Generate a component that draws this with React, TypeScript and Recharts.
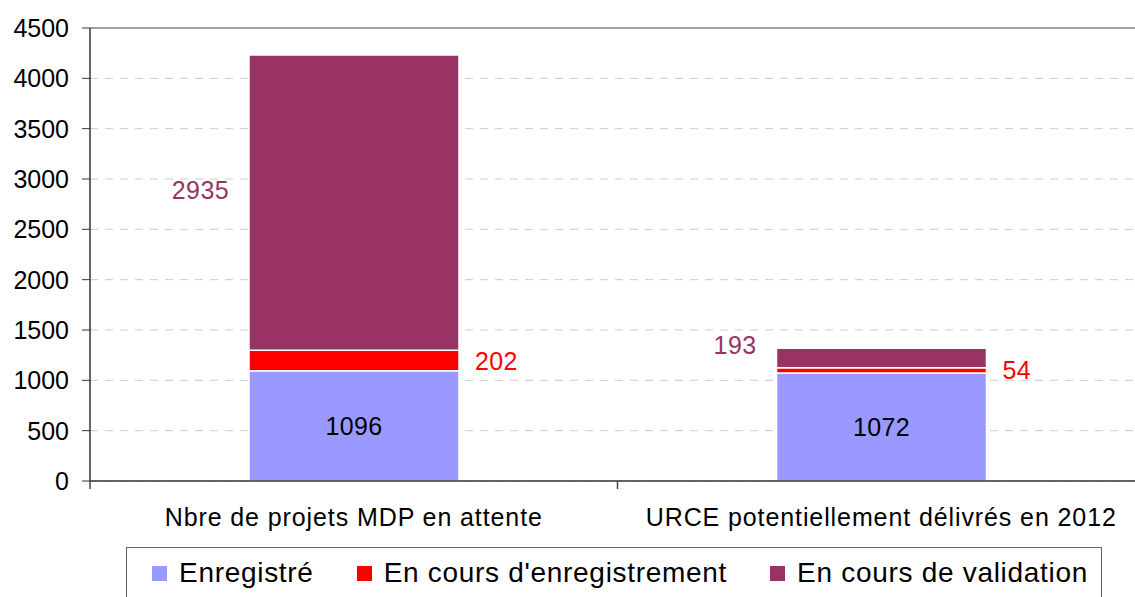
import { BarChart, Bar, XAxis, YAxis, CartesianGrid, LabelList, ReferenceLine } from "recharts";

const categories = ["Nbre de projets MDP en attente", "URCE potentiellement délivrés en 2012"];
const enregistre = [1096, 1072];
const enCoursEnreg = [202, 54];
const enCoursValid = [2935, 193];
const yTicks = [0, 500, 1000, 1500, 2000, 2500, 3000, 3500, 4000, 4500];

const seriesNames = ["Enregistré", "En cours d'enregistrement", "En cours de validation"];
const colors = ["#9999FF", "#FF0000", "#993366"];

const data = categories.map((name, i) => ({
  name,
  a: enregistre[i],
  b: enCoursEnreg[i],
  c: enCoursValid[i],
}));

const FONT = "'Liberation Sans', Arial, Helvetica, sans-serif";

const CategoryTick = (props: any) => {
  const { x, y, payload, index, visibleTicksCount } = props;
  const off = payload.offset ?? 265;
  const isLast = index === (visibleTicksCount ?? 2) - 1;
  return (
    <g>
      <line x1={x - off} x2={x - off} y1={y} y2={y + 8} stroke="#444" strokeWidth={1.5} />
      {isLast && <line x1={x + off} x2={x + off} y1={y} y2={y + 8} stroke="#444" strokeWidth={1.5} />}
      <text x={x} y={y + 45} textAnchor="middle" fill="#000" fontSize={25} letterSpacing={0.9} fontFamily={FONT}>
        {payload.value}
      </text>
    </g>
  );
};

const insideLabel = (props: any) => {
  const { x, y, width, height, value } = props;
  return (
    <text x={x + width / 2} y={y + height / 2} textAnchor="middle" dominantBaseline="central" fill="#000" fontSize={25} letterSpacing={0.4} fontFamily={FONT}>
      {value}
    </text>
  );
};

const rightLabel = (props: any) => {
  const { x, y, width, height, value } = props;
  return (
    <text x={x + width + 16} y={y + height / 2} textAnchor="start" dominantBaseline="central" fill={colors[1]} fontSize={25} letterSpacing={0.4} fontFamily={FONT}>
      {value}
    </text>
  );
};

const leftLabel = (props: any) => {
  const { x, y, height, value } = props;
  return (
    <text x={x - 20} y={y + height / 2 - 13} textAnchor="end" dominantBaseline="central" fill={colors[2]} fontSize={25} letterSpacing={0.4} fontFamily={FONT}>
      {value}
    </text>
  );
};

export default function App() {
  return (
    <div style={{ position: "absolute", left: 0, top: 0, width: 1135, height: 597, overflow: "hidden", background: "#fff" }}>
      <BarChart
        width={1160}
        height={597}
        data={data}
        barSize={210}
        margin={{ top: 28, right: 15, left: 0, bottom: 0 }}
      >
        <CartesianGrid vertical={false} stroke="#cccccc" strokeDasharray="8 7" />
        <ReferenceLine y={4500} stroke="#888" strokeWidth={1.5} />
        <XAxis
          dataKey="name"
          height={116}
          tickLine={false}
          tickSize={0}
          tickMargin={0}
          axisLine={{ stroke: "#333", strokeWidth: 1.5 }}
          tick={<CategoryTick />}
          interval={0}
        />
        <YAxis
          width={90}
          domain={[0, 4500]}
          ticks={yTicks}
          interval={0}
          tickSize={8}
          tickMargin={13}
          tickLine={{ stroke: "#333" }}
          axisLine={{ stroke: "#333", strokeWidth: 1.5 }}
          tick={{ fill: "#000", fontSize: 25, fontFamily: FONT }}
        />
        <Bar dataKey="a" stackId="s" fill={colors[0]} stroke="#fff" strokeWidth={1.5} isAnimationActive={false}>
          <LabelList dataKey="a" content={insideLabel} />
        </Bar>
        <Bar dataKey="b" stackId="s" fill={colors[1]} stroke="#fff" strokeWidth={1.5} isAnimationActive={false}>
          <LabelList dataKey="b" content={rightLabel} />
        </Bar>
        <Bar dataKey="c" stackId="s" fill={colors[2]} stroke="#fff" strokeWidth={1.5} isAnimationActive={false}>
          <LabelList dataKey="c" content={leftLabel} />
        </Bar>
      </BarChart>
      <div
        style={{
          position: "absolute",
          left: 126,
          top: 547,
          width: 976,
          height: 70,
          border: "1.5px solid #666",
          boxSizing: "border-box",
          display: "flex",
          alignItems: "flex-start",
          paddingLeft: 25,
          paddingTop: 9,
          fontFamily: FONT,
          fontSize: 28,
          letterSpacing: 0.7,
          color: "#000",
        }}
      >
        {seriesNames.map((n, i) => (
          <div key={n} style={{ display: "flex", alignItems: "center", marginRight: 43, whiteSpace: "nowrap" }}>
            <span style={{ display: "inline-block", width: 15, height: 15, background: colors[i], marginRight: 12 }} />
            <span>{n}</span>
          </div>
        ))}
      </div>
    </div>
  );
}
